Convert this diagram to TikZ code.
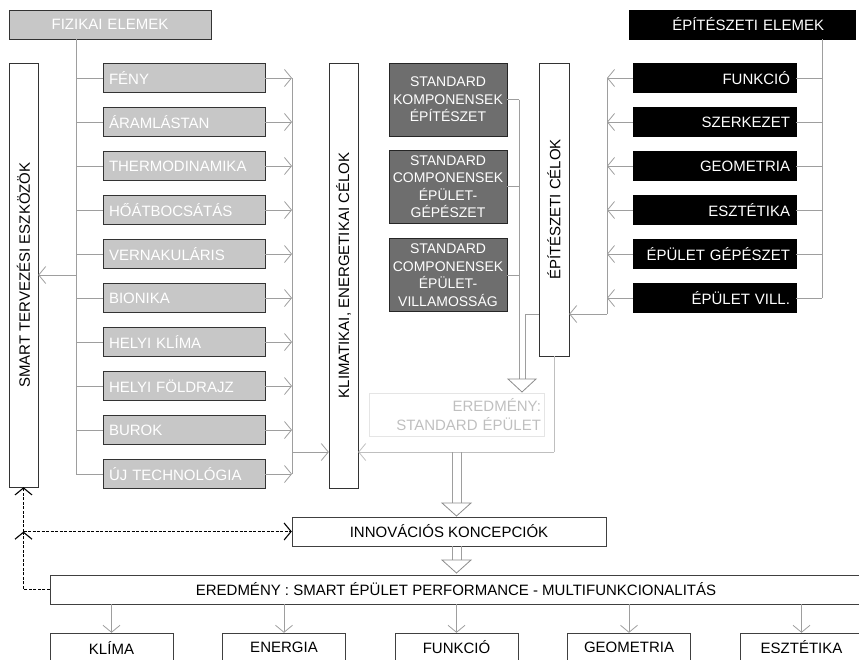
\documentclass[tikz,border=0pt]{standalone}
\usepackage{fontspec}
\setmainfont{Liberation Sans}
\usepackage{graphicx}
\usetikzlibrary{arrows.meta}

\newcommand{\elemfont}{\fontsize{15}{18.5}\selectfont}
\newcommand{\stdfont}{\fontsize{14}{17.5}\selectfont}

\tikzset{
  physbox/.style={draw=black!80, fill=black!22, text=white, minimum height=29pt,
    text width=150pt, inner xsep=6pt, align=left, font=\elemfont},
  archbox/.style={draw=black, fill=black, text=white, minimum height=29pt,
    text width=151pt, inner xsep=6pt, align=right, font=\elemfont},
  stdbox/.style={draw=black!85, fill=black!57, text=white, minimum width=118pt,
    minimum height=73pt, inner sep=2pt, align=center, font=\stdfont},
  goalbox/.style={draw=black!80, fill=white, minimum width=29pt, font=\elemfont},
  outbox/.style={draw=black!75, fill=white, minimum height=29pt, font=\elemfont},
  conn/.style={draw=black!38, line width=0.8pt},
  lightconn/.style={draw=black!25, line width=0.8pt},
  barb/.style={-{Straight Barb[length=7pt,width=17pt]}},
  feedback/.style={draw=black, line width=1.1pt, dash pattern=on 3pt off 1.5pt},
  hollow/.style={draw=black!45, fill=white, line width=0.8pt}
}

\begin{document}
\begin{tikzpicture}[x=1pt,y=-1pt]
\useasboundingbox (0,0) rectangle (859,659);

% fizikai elemek
\node[physbox, text width=190pt, align=center] (fiz) at (110,24.5) {FIZIKAI ELEMEK};
\coordinate (fbus) at (76,39);
\coordinate (rbus) at (292,78);
\foreach \lbl [count=\i] in {FÉNY,ÁRAMLÁSTAN,THERMODINAMIKA,HŐÁTBOCSÁTÁS,VERNAKULÁRIS,BIONIKA,HELYI KLÍMA,HELYI FÖLDRAJZ,BUROK,ÚJ TECHNOLÓGIA}{
  \node[physbox] (p\i) at (184,34+44*\i) {\lbl};
  \draw[conn] (p\i.west -| fbus) -- (p\i.west);
  \draw[conn,barb] (p\i.east) -- (p\i.east -| rbus);
}
\draw[conn] (fbus) -- (p10.west -| fbus);
\draw[conn] (rbus) -- (p10.east -| rbus);

\node[goalbox, minimum height=424pt] (smart) at (23.5,275) {\rotatebox{90}{SMART TERVEZÉSI ESZKÖZÖK}};
\coordinate (fmid) at (76,275);
\draw[conn,barb] (fmid) -- (fmid -| smart.east);

\node[goalbox, minimum height=425pt] (klim) at (343.5,275.5) {\rotatebox{90}{KLIMATIKAI, ENERGETIKAI CÉLOK}};
\coordinate (kin) at (292,452);
\draw[conn,barb] (kin) -- (kin -| klim.west);

% epiteszeti elemek
\node[archbox, text width=164pt, inner xsep=31pt] (epel) at (742,24.5) {ÉPÍTÉSZETI ELEMEK};
\coordinate (ebus) at (822,39);
\coordinate (lbus) at (607,78);
\foreach \lbl [count=\i] in {FUNKCIÓ,SZERKEZET,GEOMETRIA,ESZTÉTIKA,ÉPÜLET GÉPÉSZET,ÉPÜLET VILL.}{
  \node[archbox] (a\i) at (714.5,34+44*\i) {\lbl};
  \draw[conn] (a\i.east) -- (a\i.east -| ebus);
  \draw[conn,barb] (a\i.west) -- (a\i.west -| lbus);
}
\draw[conn] (ebus) -- (a6.east -| ebus);

\node[goalbox, minimum width=30pt, minimum height=293pt] (epcel) at (554,209.5) {\rotatebox{90}{ÉPÍTÉSZETI CÉLOK}};
\coordinate (ein) at (607,314);
\draw[conn] (lbus) -- (ein);
\draw[conn,barb] (ein) -- (ein -| epcel.east);

% standard komponensek
\node[stdbox] (s1) at (448,99.5) {STANDARD\\KOMPONENSEK\\ÉPÍTÉSZET};
\node[stdbox] (s2) at (448,186.5) {STANDARD\\COMPONENSEK\\ÉPÜLET-\\GÉPÉSZET};
\node[stdbox] (s3) at (448,275) {STANDARD\\COMPONENSEK\\ÉPÜLET-\\VILLAMOSSÁG};
\coordinate (sbus) at (519,379);
\coordinate (eout) at (525,379);
\foreach \i in {1,2,3}
  \draw[conn] (s\i.east) -- (s\i.east -| sbus);
\draw[conn] (s1.east -| sbus) -- (sbus);
\draw[conn] (ein -| epcel.west) -| (eout);
\draw[hollow] (508,379) -- (536,379) -- (522,392) -- cycle;

\node[draw=black!10, text=black!25, text width=169pt, inner xsep=3pt, align=right,
  minimum height=43pt, font=\elemfont] (stdres) at (456.5,414.5) {EREDMÉNY:\\STANDARD ÉPÜLET};

\coordinate (kout) at (554,452);
\draw[lightconn] (epcel.south) -- (kout);
\draw[lightconn,barb] (kout) -- (kout -| klim.east);

% innovacio
\node[outbox, minimum width=314pt] (inno) at (449,531.5) {INNOVÁCIÓS KONCEPCIÓK};
\draw[conn] (452,452) -- (452,503);
\draw[conn] (461,452) -- (461,503);
\draw[hollow] (442,503) -- (471,503) -- (456.5,516) -- cycle;

\node[outbox, minimum width=812pt] (ered) at (456,589.5) {EREDMÉNY : SMART ÉPÜLET PERFORMANCE - MULTIFUNKCIONALITÁS};
\draw[conn] (452,546) -- (452,560);
\draw[conn] (461,546) -- (461,560);
\draw[hollow] (442,560) -- (471,560) -- (456.5,573) -- cycle;

\foreach \lbl [count=\i] in {KLÍMA,ENERGIA,FUNKCIÓ,GEOMETRIA,ESZTÉTIKA}{
  \node[outbox, minimum width=123pt] (o\i) at (-61+172.5*\i,647.5) {\lbl};
  \draw[conn,barb] (o\i.north |- ered.south) -- (o\i.north);
}

% visszacsatolas
\coordinate (fb) at (23.5,531.5);
\draw[feedback,barb] (ered.west) -| (fb);
\draw[feedback,barb] (fb) -- (smart.south);
\draw[feedback,barb] (fb) -- (inno.west);
\end{tikzpicture}
\end{document}
